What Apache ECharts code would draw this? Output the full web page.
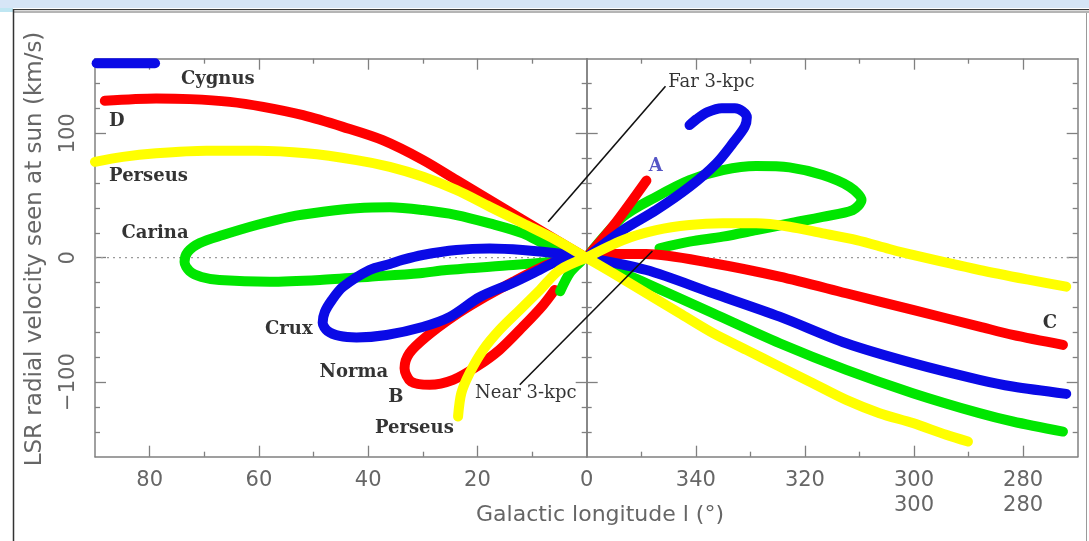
<!DOCTYPE html>
<html>
<head>
<meta charset="utf-8">
<title>Longitude–velocity diagram of the spiral arms</title>
<script src="https://cdn.jsdelivr.net/npm/echarts@6/dist/echarts.min.js"></script>
<style>
  html, body { margin: 0; padding: 0; background: #ffffff; }
  #chart { width: 1089px; height: 541px; }
</style>
</head>
<body>
<div id="chart"></div>
<script>
// Galactic longitude (deg, 0–90 and 270–360) and LSR velocity (km/s) along each arm trace.
const blueCygnus = [[89.7, 156.4], [79.0, 156.4]];
const redD = [[88.2, 126.1], [78.8, 128.0], [72.6, 127.5], [65.3, 125.3], [59.2, 121.3], [51.9, 114.6], [44.6, 105.2], [37.3, 94.5], [29.9, 78.5], [23.8, 62.4], [17.7, 46.3], [11.6, 30.3], [5.5, 14.2], [0, 0]];
const redC = [[360, 0], [357.5, 3.0], [349.0, 3.0], [336.8, -4.5], [324.6, -15.3], [312.4, -28.6], [300.2, -42.0], [288.0, -55.4], [281.9, -62.1], [272.7, -70.1]];
const redA = [[360, 0], [355.0, 26.0], [349.0, 62.0]];
const redNormaB = [[1.5, 0], [4.6, -1.8], [8.6, -8.5], [13.4, -19.3], [19.5, -34.0], [24.4, -47.4], [29.3, -63.5], [32.4, -76.8], [33.3, -88.8], [32.1, -99.6], [28.7, -102.2], [24.4, -98.2], [20.1, -87.6], [15.9, -74.1], [11.6, -55.4], [7.9, -38.0], [5.8, -25.9]];
const blueCrux = [[0, 0], [4.3, 3.0], [11.7, 6.2], [17.7, 7.4], [23.8, 6.2], [30.0, 2.2], [33.7, -1.8], [36.0, -5.1], [39.7, -9.9], [44.6, -23.5], [46.6, -34.0], [47.9, -43.6], [48.3, -52.4], [47.4, -58.9], [45.2, -62.9], [42.1, -64.1], [36.6, -62.1], [30.0, -55.7], [25.0, -47.6], [19.5, -31.6], [13.5, -20.3], [8.6, -9.9], [4.9, -1.8], [1.5, 0]];
const blueSouth = [[360, 0], [349.0, -9.9], [336.8, -28.6], [324.6, -47.4], [312.4, -68.8], [300.2, -84.8], [288.0, -98.2], [281.9, -103.6], [272.1, -109.5]];
const blueFar = [[360, 0], [353.3, 22.2], [347.2, 38.3], [341.1, 57.0], [336.2, 75.8], [333.2, 91.9], [331.0, 105.2], [330.6, 113.0], [331.4, 117.8], [332.8, 120.2], [335.2, 120.2], [337.8, 117.0], [339.8, 111.4], [341.1, 106.6]];
const yellowPerseusUpper = [[90.0, 77.1], [84.9, 81.1], [78.8, 83.9], [69.6, 85.9], [60.4, 85.9], [51.3, 83.9], [42.1, 78.5], [36.0, 73.1], [29.9, 65.1], [23.8, 54.4], [17.7, 41.0], [11.6, 27.6], [5.5, 14.2], [0, 0]];
const yellowSouthUpper = [[360, 0], [353.3, 14.2], [347.2, 22.2], [341.1, 26.3], [335.0, 27.6], [328.9, 27.6], [322.8, 24.9], [316.7, 19.6], [310.5, 14.2], [304.5, 7.0], [300.2, 2.2], [288.0, -9.9], [278.8, -17.9], [272.1, -23.3]];
const yellowPerseusLower = [[0, 0], [4.9, -9.9], [8.5, -25.9], [12.2, -42.0], [15.9, -58.1], [18.9, -74.1], [21.4, -92.9], [22.9, -108.9], [23.5, -127.7]];
const yellowSouthLower = [[360, 0], [355.1, -12.5], [349.0, -28.6], [342.9, -44.7], [336.8, -60.7], [330.7, -74.1], [324.6, -87.6], [318.5, -100.9], [312.4, -114.3], [306.3, -125.0], [300.2, -133.0], [294.1, -142.4], [290.1, -147.8]];
const greenCarina = [[0, 0], [6.7, 8.8], [11.6, 19.6], [17.7, 27.6], [23.8, 34.3], [29.9, 38.3], [36.0, 40.5], [42.1, 39.7], [48.2, 36.9], [54.3, 32.9], [60.4, 26.3], [66.6, 18.2], [70.8, 11.8], [73.0, 4.6], [73.6, -3.5], [72.7, -10.7], [70.5, -15.5], [67.2, -17.9], [58.0, -19.3], [48.8, -17.9], [39.7, -15.3], [30.5, -12.5], [25.6, -9.9], [13.4, -5.9], [6.1, -3.2]];
const greenStub = [[1.0, -3.0], [3.0, -12.0], [4.8, -27.0]];
const greenSouthLoop = [[360, 0], [353.3, 32.9], [347.2, 49.0], [341.1, 62.4], [335.0, 70.4], [328.9, 73.7], [322.8, 72.6], [316.7, 66.4], [311.8, 57.0], [309.6, 46.3], [311.2, 38.3], [316.7, 32.9], [322.8, 27.6], [328.9, 22.2], [335.0, 16.9], [341.1, 12.9], [346.6, 7.6]];
const greenSouthLower = [[360, 0], [349.0, -20.6], [336.8, -44.7], [324.6, -68.8], [312.4, -90.2], [300.2, -108.9], [288.0, -125.0], [281.9, -131.7], [272.7, -139.8]];

// Leader lines for the 3-kpc arm labels.
const farLeader = [[7.0, 28.9], [345.5, 137.9]];
const nearLeader = [[12.2, -102.2], [347.9, 5.4]];

// Arm names and where they sit.
const armLabels = ['Cygnus', 'D', 'Perseus', 'Carina', 'Crux', 'Norma', 'B', 'Perseus', 'A', 'C', 'Far 3-kpc', 'Near 3-kpc'];
const armLabelAt = [[67.5, 143.5], [86.0, 109.8], [80.2, 65.6], [79.0, 19.8], [54.5, -57.3], [42.6, -91.8], [34.9, -111.9], [31.5, -136.8], [347.3, 73.7], [275.1, -52.4], [337.1, 141.1], [11.1, -108.7]];

// Tick values.
const leftMajorTicks = [20, 40, 60, 80];
const leftMinorTicks = [10, 30, 50, 70];
const leftTickLabels = [80, 60, 40, 20, 0];
const rightMajorTicks = [280, 300, 320, 340];
const rightMinorTicks = [290, 310, 330, 350];
const rightTickLabels = [340, 320, 300, 280];
const rightSecondRow = [300, 280];
const vMajorTicks = [-100, 0, 100];
const vMinorTicks = [-140, -120, -80, -60, -40, -20, 20, 40, 60, 80, 120, 140];
const vTickLabels = [-100, 0, 100];

const RED = '#ff0000', YELLOW = '#ffff00', GREEN = '#00e600', BLUE = '#0a0ae6';
const AXIS = '#808080';
const TICK_FONT = { color: '#666666', fontFamily: 'DejaVu Sans', fontSize: 21 };

// Longitudes above 180 are drawn to the right of l = 0.
const toU = l => (l > 180 ? l - 360 : l);
const pts = arr => arr.map(([l, v]) => [toU(l), v]);

const chart = echarts.init(document.getElementById('chart'), null, { renderer: 'canvas' });

const GRID_TOP = 58.7, GRID_BOTTOM = 84.3, LEFT = 95, MID = 586.7, RIGHT = 11.3;

function xPair(grid, min, max, position, majors, minors, labels, fmt) {
  const base = { type: 'value', gridIndex: grid, min, max, inverse: true, position, splitLine: { show: false } };
  return [
    Object.assign({}, base, {
      axisLine: { show: true, onZero: false, lineStyle: { color: AXIS, width: 1.5 } },
      axisTick: { show: true, inside: true, length: 11, customValues: majors, lineStyle: { color: AXIS, width: 1.3 } },
      axisLabel: labels ? Object.assign({ show: true, customValues: labels, formatter: fmt, margin: 11, lineHeight: 25 }, TICK_FONT) : { show: false }
    }),
    Object.assign({}, base, {
      axisLine: { show: false, onZero: false },
      axisTick: { show: true, inside: true, length: 5, customValues: minors, lineStyle: { color: AXIS, width: 1.3 } },
      axisLabel: { show: false }
    })
  ];
}

function yPair(grid, position, labels) {
  const base = { type: 'value', gridIndex: grid, min: -160, max: 160, position, splitLine: { show: false } };
  return [
    Object.assign({}, base, {
      axisLine: { show: true, onZero: false, lineStyle: { color: AXIS, width: 1.5 } },
      axisTick: { show: true, inside: true, length: 11, customValues: vMajorTicks, lineStyle: { color: AXIS, width: 1.3 } },
      axisLabel: labels ? Object.assign({ show: true, customValues: labels, rotate: 90, margin: 16,
        formatter: v => (v < 0 ? '\u2212' + Math.abs(v) : String(v)) }, TICK_FONT) : { show: false }
    }),
    Object.assign({}, base, {
      axisLine: { show: false, onZero: false },
      axisTick: { show: true, inside: true, length: 5, customValues: vMinorTicks, lineStyle: { color: AXIS, width: 1.3 } },
      axisLabel: { show: false }
    })
  ];
}

const rightFmt = v => (rightSecondRow.indexOf(v) >= 0 ? v + '\n' + v : String(v));

const xAxes = [].concat(
  xPair(0, 0, 90, 'bottom', leftMajorTicks, leftMinorTicks, leftTickLabels, v => String(v)),
  xPair(0, 0, 90, 'top', leftMajorTicks, leftMinorTicks, null),
  xPair(1, 270, 360, 'bottom', rightMajorTicks, rightMinorTicks, rightTickLabels, rightFmt),
  xPair(1, 270, 360, 'top', rightMajorTicks, rightMinorTicks, null),
  [{ type: 'value', gridIndex: 2, min: -90, max: 90, inverse: true, show: false }]
);
const yAxes = [].concat(
  yPair(0, 'left', vTickLabels),
  yPair(0, 'right', null),
  yPair(1, 'left', null),
  yPair(1, 'right', null),
  [{ type: 'value', gridIndex: 2, min: -160, max: 160, show: false }]
);
const DX = xAxes.length - 1, DY = yAxes.length - 1;

function arm(name, data, color) {
  return {
    name, type: 'line', xAxisIndex: DX, yAxisIndex: DY, data: pts(data),
    showSymbol: false, symbol: 'none', smooth: 0.3, clip: false, silent: true,
    lineStyle: { color, width: 10, cap: 'round', join: 'round' }
  };
}
function leader(name, data) {
  return {
    name, type: 'line', xAxisIndex: DX, yAxisIndex: DY, data: pts(data),
    showSymbol: false, symbol: 'none', clip: false, silent: true,
    lineStyle: { color: '#111111', width: 1.6 }
  };
}

const labelData = armLabels.map((t, i) => {
  const item = { value: pts([armLabelAt[i]])[0], name: t };
  if (t === 'A') item.label = { color: '#2b2bb8' };
  if (t.indexOf('3-kpc') >= 0) item.label = { fontWeight: 'normal' };
  return item;
});

const option = {
  animation: false,
  backgroundColor: '#ffffff',
  grid: [
    { left: LEFT, top: GRID_TOP, bottom: GRID_BOTTOM, width: MID - LEFT },
    { left: MID, top: GRID_TOP, bottom: GRID_BOTTOM, right: RIGHT },
    { left: LEFT, top: GRID_TOP, bottom: GRID_BOTTOM, right: RIGHT }
  ],
  xAxis: xAxes,
  yAxis: yAxes,
  graphic: [
    { type: 'rect', shape: { x: 0, y: 0, width: 1089, height: 8 }, style: { fill: '#d6e5f6' }, silent: true },
    { type: 'rect', shape: { x: 0, y: 8, width: 13, height: 4 }, style: { fill: '#bfe6f2' }, silent: true },
    { type: 'line', shape: { x1: 13, y1: 9.5, x2: 1089, y2: 9.5 }, style: { stroke: '#3a3a3a', lineWidth: 1 }, silent: true },
    { type: 'rect', shape: { x: 13, y: 10.5, width: 1076, height: 2.5 }, style: { fill: '#b5b5b5' }, silent: true },
    { type: 'line', shape: { x1: 13.5, y1: 9, x2: 13.5, y2: 541 }, style: { stroke: '#333333', lineWidth: 1.5 }, silent: true },
    { type: 'line', shape: { x1: 1086.5, y1: 13, x2: 1086.5, y2: 541 }, style: { stroke: '#9a9a9a', lineWidth: 1 }, silent: true },
    { type: 'text', x: 600, y: 515, silent: true,
      style: { text: 'Galactic longitude l (\u00b0)', fill: '#666666', fontFamily: 'DejaVu Sans', fontSize: 22, align: 'center', verticalAlign: 'middle' } },
    { type: 'text', x: 35, y: 249, rotation: Math.PI / 2, silent: true,
      style: { text: 'LSR radial velocity seen at sun (km/s)', fill: '#666666', fontFamily: 'DejaVu Sans', fontSize: 23, align: 'center', verticalAlign: 'middle' } }
  ],
  series: [
    {
      name: 'v = 0', type: 'line', xAxisIndex: DX, yAxisIndex: DY, data: pts([[90, 0], [270, 0]]),
      showSymbol: false, symbol: 'none', silent: true,
      lineStyle: { color: '#9a9a9a', width: 1.2, type: [2, 4] }
    },
    arm('Carina', greenCarina, GREEN),
    arm('South loop (green)', greenSouthLoop, GREEN),
    arm('South lower (green)', greenSouthLower, GREEN),
    arm('D', redD, RED),
    arm('C', redC, RED),
    arm('A', redA, RED),
    arm('Norma B', redNormaB, RED),
    arm('Near stub (green)', greenStub, GREEN),
    arm('Cygnus', blueCygnus, BLUE),
    arm('Crux', blueCrux, BLUE),
    arm('South (blue)', blueSouth, BLUE),
    arm('Far loop (blue)', blueFar, BLUE),
    arm('Perseus north', yellowPerseusUpper, YELLOW),
    arm('South upper (yellow)', yellowSouthUpper, YELLOW),
    arm('Perseus south', yellowPerseusLower, YELLOW),
    arm('South lower (yellow)', yellowSouthLower, YELLOW),
    leader('Far 3-kpc', farLeader),
    leader('Near 3-kpc', nearLeader),
    {
      name: 'labels', type: 'scatter', xAxisIndex: DX, yAxisIndex: DY, data: labelData,
      symbolSize: 0, silent: true, clip: false,
      label: {
        show: true, position: 'inside', formatter: p => p.name,
        color: '#000000', fontFamily: 'DejaVu Serif', fontWeight: 'bold', fontSize: 18
      }
    }
  ]
};

chart.setOption(option);
</script>
</body>
</html>
